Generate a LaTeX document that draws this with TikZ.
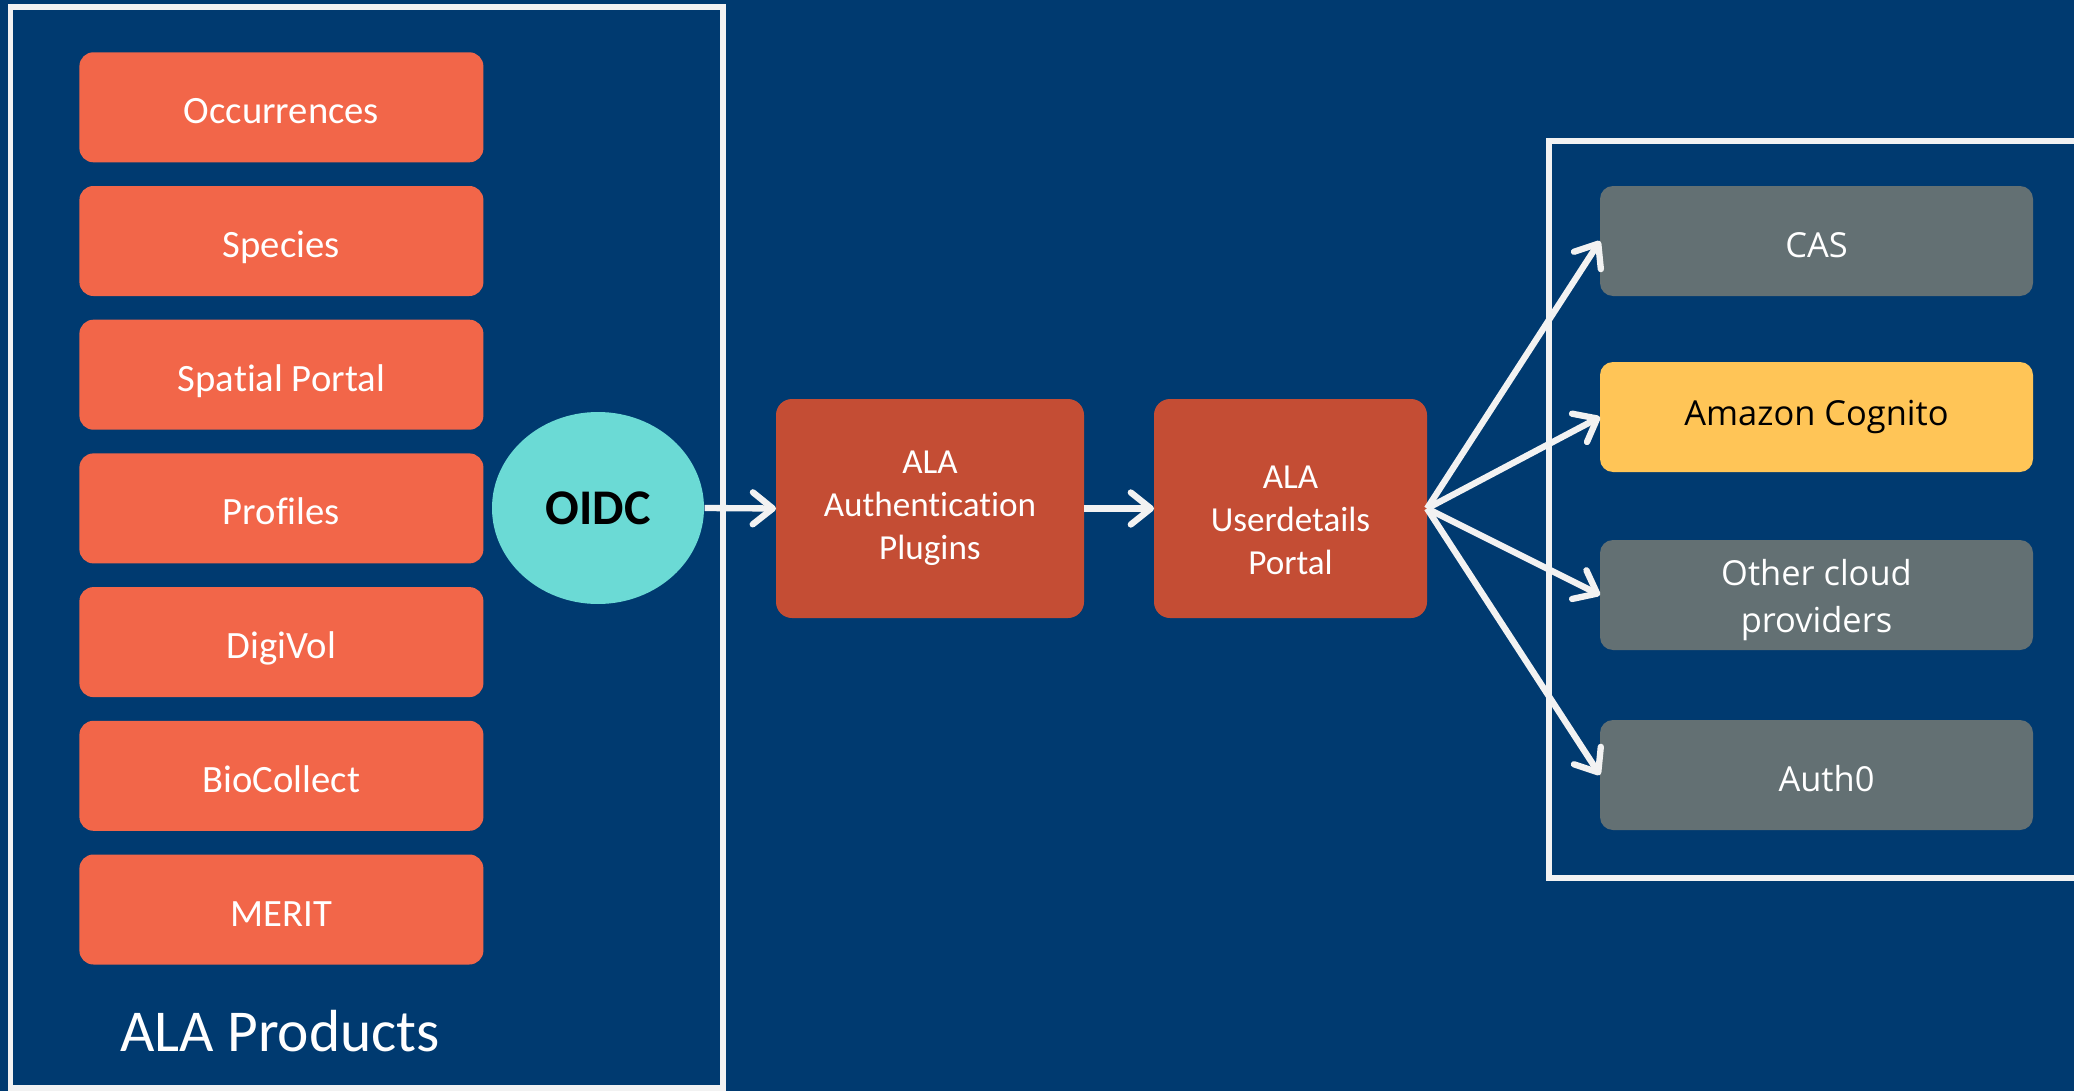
\documentclass[tikz,border=0pt]{standalone}
\usepackage{fontspec}
\setmainfont{Carlito}[Ligatures=NoCommon]
\newfontfamily\cloudfont{Open Sans}
\usetikzlibrary{shapes.geometric,arrows.meta,positioning}

\definecolor{alanavy}{HTML}{003A70}
\definecolor{alaorange}{HTML}{F26649}
\definecolor{alarust}{HTML}{C44D34}
\definecolor{alateal}{HTML}{6BDAD5}
\definecolor{alagrey}{HTML}{637073}
\definecolor{alahoney}{HTML}{FFC557}
\definecolor{framewhite}{HTML}{F2F2F2}

\tikzset{product/.style={fill=alaorange, rounded corners=0.14cm,
        minimum width=4.04cm, minimum height=1.1cm, inner sep=0pt, outer sep=0pt,
        text height=9.4pt, text depth=0pt,
        text=white, font=\fontsize{11}{12}\selectfont},
    service/.style={fill=alarust, rounded corners=0.16cm,
        minimum height=2.19cm, inner sep=0pt, outer sep=0pt, align=center,
        text=white, font=\fontsize{10}{12.2}\selectfont},
    provider/.style={fill=alagrey, rounded corners=0.13cm,
        minimum width=4.33cm, minimum height=1.1cm, inner sep=0pt, outer sep=0pt,
        align=center, text=white, font=\cloudfont\fontsize{9.8}{13.4}\selectfont},
    frame/.style={draw=framewhite, line width=1.7pt},
    flow/.style={draw=framewhite, line width=1.8pt,
        -{Straight Barb[length=2mm,width=3.2mm,round]}},
    }

\begin{document}
\begin{tikzpicture}
	% background
	\fill[alanavy] (0,0) rectangle (20.74,-10.91);
	\useasboundingbox (0,0) rectangle (20.74,-10.91);

	% ALA products
	\node[product] (occ) at (2.814,-1.073) {Occurrences};
	\node[product, below=0.237cm of occ] (species) {Species};
	\node[product, below=0.237cm of species] (spatial) {Spatial Portal};
	\node[product, below=0.237cm of spatial] (profiles) {Profiles};
	\node[product, below=0.237cm of profiles] (digivol) {DigiVol};
	\node[product, below=0.237cm of digivol] (biocollect) {BioCollect};
	\node[product, below=0.237cm of biocollect] (merit) {MERIT};
	\node[anchor=base, text=white, font=\fontsize{16.9}{20}\selectfont]
		(products) at (2.80,-10.51) {ALA Products};
	\draw[frame] (0.105,-0.07) rectangle (7.23,-10.88);

	\node[ellipse, fill=alateal, minimum width=2.12cm, minimum height=1.92cm,
		inner sep=0pt, font=\bfseries\fontsize{14.2}{16}\selectfont]
		(oidc) at (5.98,-5.08) {OIDC};

	% auth services
	\node[service, minimum width=3.08cm] (plugins) at (9.30,-5.085)
		{ALA\\Authentication\\Plugins};
	\node[service, minimum width=2.73cm] (userdetails) at (12.905,-5.085)
		{\rule{0pt}{13pt}ALA\\Userdetails\\Portal};

	% identity providers
	\draw[frame] (20.74,-1.41) -- (15.49,-1.41) -- (15.49,-8.78) -- (20.74,-8.78);
	\node[provider, text height=9.2pt, text depth=0pt] (cas) at (18.165,-2.41) {CAS};
	\node[provider, fill=alahoney, text=black] (cognito) at (18.165,-4.17) {Amazon Cognito};
	\node[provider] (othercloud) at (18.165,-5.95) {\rule{0pt}{10.2pt}Other cloud\\providers};
	\node[provider, text height=9.2pt, text depth=0pt] (auth0) at (18.165,-7.75)
		{\hspace*{0.2cm}Auth0};

	\draw[flow] (oidc.east) -- (plugins.west);
	\draw[flow] (plugins.east) -- (userdetails.west);
	\draw[flow] (userdetails.east) -- (cas.west);
	\draw[flow] (userdetails.east) -- (cognito.west);
	\draw[flow] (userdetails.east) -- (othercloud.west);
	\draw[flow] (userdetails.east) -- (auth0.west);
\end{tikzpicture}
\end{document}
